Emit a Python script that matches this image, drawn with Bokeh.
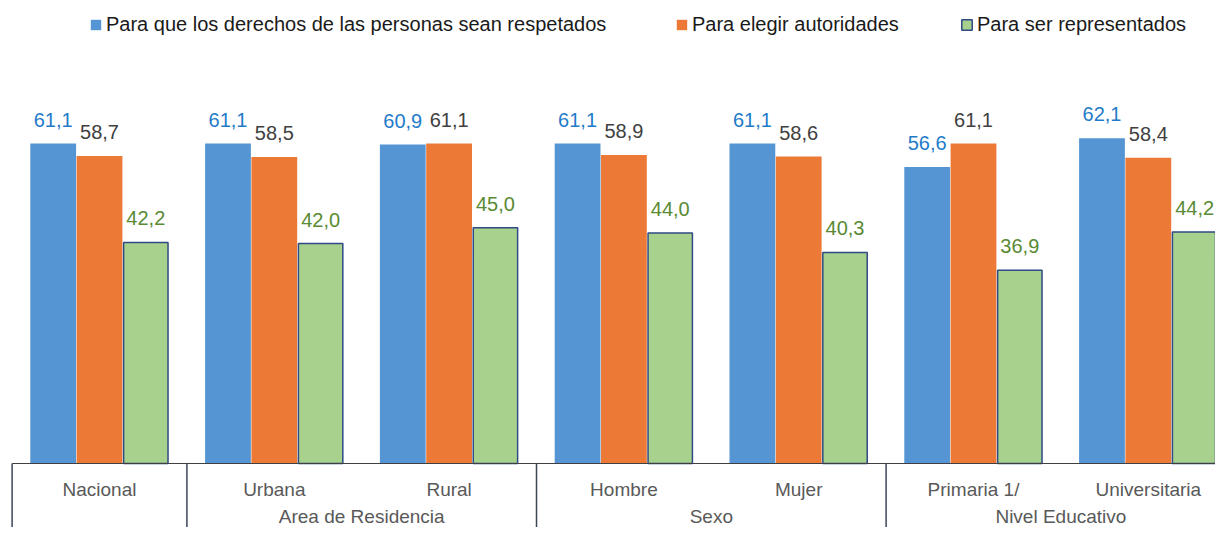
import numpy as np
from bokeh.plotting import figure
from bokeh.models import ColumnDataSource, Legend, LegendItem, Range1d
from bokeh.core.properties import value
from bokeh.embed import file_html
from bokeh.resources import INLINE

# ---- data ----
categories = ["Nacional", "Urbana", "Rural", "Hombre", "Mujer", "Primaria 1/", "Universitaria"]
groups = ["", "Area de Residencia", "Sexo", "Nivel Educativo"]
group_sizes = [1, 2, 2, 2]
series_names = ["Para que los derechos de las personas sean respetados",
                "Para elegir autoridades",
                "Para ser representados"]
derechos = [61.1, 61.1, 60.9, 61.1, 61.1, 56.6, 62.1]
autoridades = [58.7, 58.5, 61.1, 58.9, 58.6, 61.1, 58.4]
representados = [42.2, 42.0, 45.0, 44.0, 40.3, 36.9, 44.2]

FONT = "Liberation Sans"
W, H = 1215, 527

p = figure(width=W, height=H, output_backend="svg", toolbar_location=None,
           x_range=Range1d(-0.5664, 6.3844), y_range=Range1d(-12.220, 88.405),
           min_border=0, min_border_left=0, min_border_right=0,
           min_border_top=0, min_border_bottom=0)
p.axis.visible = False
p.grid.visible = False
p.outline_line_color = None
p.background_fill_color = "white"
p.border_fill_color = "white"

idx = np.arange(len(categories))
bw = 0.262
off = 0.265

src = ColumnDataSource(dict(
    x=idx, xb=idx - off, xo=idx, xg=idx + off,
    b=derechos, o=autoridades, g=representados,
    bl=[f"{v:.1f}".replace(".", ",") for v in derechos],
    ol=[f"{v:.1f}".replace(".", ",") for v in autoridades],
    gl=[f"{v:.1f}".replace(".", ",") for v in representados],
))

rb = p.vbar(x="xb", top="b", bottom=0, width=bw, source=src,
            fill_color="#5595D4", line_color=None)
ro = p.vbar(x="xo", top="o", bottom=0, width=bw, source=src,
            fill_color="#EC7A36", line_color=None)
rg = p.vbar(x="xg", top="g", bottom=0, width=bw - 0.008, source=src,
            fill_color="#A9D18E", line_color="#2F4A85", line_width=1.5)

lab = dict(text_font=value(FONT), text_font_size="20px", text_align="center",
           text_baseline="alphabetic", y_offset=-24)
p.text(x="xb", y="b", text="bl", source=src, text_color="#1F7BC9", **lab)
p.text(x="xo", y="o", text="ol", source=src, text_color="#404040", **lab)
p.text(x="xg", y="g", text="gl", source=src, text_color="#5A8A34", **lab)

# ---- category table below ----
bounds = np.concatenate([[0], np.cumsum(group_sizes)]) - 0.5
p.segment(x0=[bounds[0]], y0=[0], x1=[bounds[-1]], y1=[0],
          line_color="#404040", line_width=1.2)
p.segment(x0=bounds, y0=[0] * len(bounds), x1=bounds, y1=[-12.3] * len(bounds),
          line_color="#3B4556", line_width=1.5)

p.text(x=idx, y=[-4.96] * len(idx), text=categories, text_font=value(FONT),
       text_font_size="19px", text_align="center", text_baseline="middle",
       text_color="#595959")
gcent = (bounds[:-1] + bounds[1:]) / 2
p.text(x=gcent, y=[-12.03] * len(gcent), text=groups, text_font=value(FONT),
       text_font_size="19px", text_align="center", text_baseline="bottom",
       text_color="#595959")

# ---- legend: one per item to place each exactly ----
leg_x = [89, 675, 960]
for r, name, lx in zip([rb, ro, rg], series_names, leg_x):
    lg = Legend(items=[LegendItem(label=name, renderers=[r])],
                location=(lx, H - 36), orientation="horizontal",
                glyph_width=13, glyph_height=13, label_standoff=4,
                label_height=20, padding=0, margin=0, spacing=0,
                border_line_alpha=0, background_fill_alpha=0,
                label_text_font=FONT, label_text_font_size="20px",
                label_text_color="#1A1A1A")
    p.add_layout(lg, "center")

open("out.html", "w").write(file_html(p, INLINE))
